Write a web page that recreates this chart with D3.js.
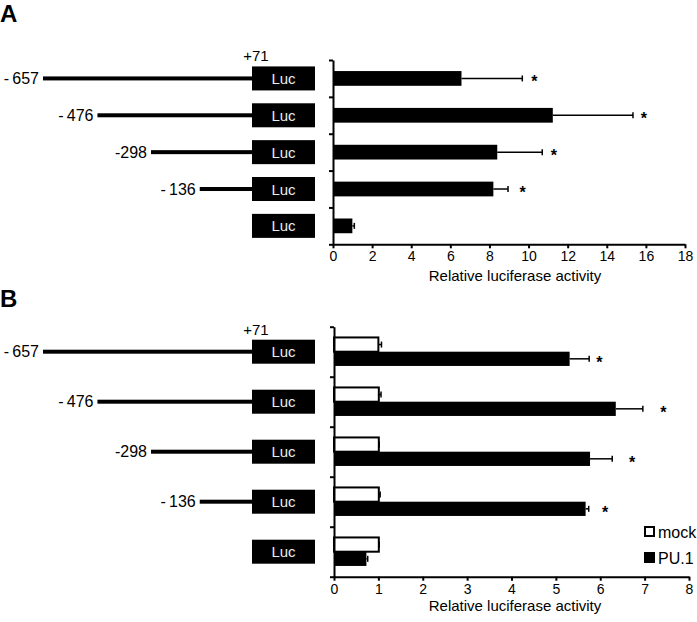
<!DOCTYPE html>
<html>
<head>
<meta charset="utf-8">
<script src="https://cdnjs.cloudflare.com/ajax/libs/d3/7.8.5/d3.min.js"></script>
<style>
  body { margin: 0; background: #fff; }
  svg { display: block; font-family: Arial, 'Liberation Sans', sans-serif; }
  .axis path, .axis line { stroke: #000; stroke-width: 2; }
  .axis text { font-size: 14px; fill: #000; }
</style>
</head>
<body>
<div id="figure"></div>
<script>
// promoter constructs, 5' end in bp (last row = empty Luc vector)
const constructStarts = [-657, -476, -298, -136, null];
const constructLabels = ['-\u2009657', '-\u2009476', '-298', '-\u2009136', ''];
const lucStart = '+71';

// panel A : relative luciferase activity
const activityA = [6.57, 11.24, 8.40, 8.20, 0.99];
const errorA = [3.11, 4.10, 2.30, 0.75, 0.10];
const starA = [10.3, 15.9, 11.3, 9.7, null];
const ticksA = [0, 2, 4, 6, 8, 10, 12, 14, 16, 18];

// panel B : mock vs PU.1
const seriesB = ['mock', 'PU.1'];
const mockB = [1.0, 1.01, 1.01, 1.01, 1.01];
const mockErrB = [0.07, 0.05, 0.01, 0.03, 0.01];
const pu1B = [5.31, 6.35, 5.77, 5.67, 0.73];
const pu1ErrB = [0.44, 0.61, 0.50, 0.07, 0.03];
const starB = [5.98, 7.42, 6.72, 6.11, null];
const ticksB = [0, 1, 2, 3, 4, 5, 6, 7, 8];

const axisTitle = 'Relative luciferase activity';

const svg = d3.select('#figure').append('svg')
  .attr('width', 697)
  .attr('height', 622);

const promoterX = d3.scaleLinear().domain([-657, 71]).range([43, 262]);
const box = { x: 252, width: 63, height: 24 };

const panelA = { letter: 'A', letterY: 22, top: 60, bottom: 244.3, x0: 333, x1: 685, domainMax: 18, ticks: ticksA, titleY: 281, padding: 0.6 };
const panelB = { letter: 'B', letterY: 307, top: 326.7, bottom: 576.7, x0: 334, x1: 689, domainMax: 8, ticks: ticksB, titleY: 611, padding: 0.43 };

function setupPanel(p) {
  p.x = d3.scaleLinear().domain([0, p.domainMax]).range([p.x0, p.x1]);
  p.y = d3.scaleBand()
    .domain(d3.range(constructStarts.length))
    .range([p.top, p.bottom])
    .paddingInner(p.padding)
    .paddingOuter(p.padding / 2);
  p.cy = function(i) { return p.y(i) + p.y.bandwidth() / 2; };

  svg.append('text')
    .attr('x', 0)
    .attr('y', p.letterY)
    .attr('font-size', 24)
    .attr('font-weight', 'bold')
    .text(p.letter);
}

function drawConstructs(p) {
  const g = svg.append('g').attr('class', 'constructs');

  const row = g.selectAll('g')
    .data(constructStarts)
    .enter()
    .append('g');

  row.filter(function(d) { return d !== null; })
    .append('rect')
      .attr('x', function(d) { return promoterX(d); })
      .attr('y', function(d, i) { return p.cy(i) - 2; })
      .attr('width', function(d) { return box.x - promoterX(d); })
      .attr('height', 4)
      .attr('fill', '#000');

  row.filter(function(d) { return d !== null; })
    .append('text')
      .attr('x', function(d) { return promoterX(d) - 4; })
      .attr('y', function(d, i) { return p.cy(i) + 5.5; })
      .attr('text-anchor', 'end')
      .attr('font-size', 16)
      .text(function(d) { return constructLabels[constructStarts.indexOf(d)]; });

  row.append('rect')
    .attr('x', box.x)
    .attr('y', function(d, i) { return p.cy(i) - box.height / 2; })
    .attr('width', box.width)
    .attr('height', box.height)
    .attr('fill', '#000');

  row.append('text')
    .attr('x', box.x + box.width / 2)
    .attr('y', function(d, i) { return p.cy(i) + 5.5; })
    .attr('text-anchor', 'middle')
    .attr('font-size', 15)
    .attr('fill', '#ececec')
    .text('Luc');

  g.append('text')
    .attr('x', box.x + 4)
    .attr('y', p.cy(0) - box.height / 2 - 5)
    .attr('text-anchor', 'middle')
    .attr('font-size', 15)
    .text(lucStart);
}

function drawAxes(p) {
  const xAxis = d3.axisBottom(p.x)
    .tickValues(p.ticks)
    .tickSize(4)
    .tickSizeOuter(0)
    .tickPadding(3);

  svg.append('g')
    .attr('class', 'axis')
    .attr('transform', 'translate(0,' + p.bottom + ')')
    .call(xAxis);

  // left axis: only ticks at row boundaries, no labels
  const rows = d3.scaleLinear().domain([0, constructStarts.length]).range([p.bottom, p.top]);
  const yAxis = d3.axisLeft(rows)
    .tickValues(d3.range(constructStarts.length + 1))
    .tickSize(4)
    .tickSizeOuter(0)
    .tickFormat('');

  svg.append('g')
    .attr('class', 'axis')
    .attr('transform', 'translate(' + p.x0 + ',0)')
    .call(yAxis);

  svg.append('text')
    .attr('x', 515)
    .attr('y', p.titleY)
    .attr('text-anchor', 'middle')
    .attr('font-size', 15)
    .text(axisTitle);
}

function errorBar(g, x, y, v, e) {
  g.append('line')
    .attr('x1', x(v)).attr('x2', x(v + e))
    .attr('y1', y).attr('y2', y)
    .attr('stroke', '#000')
    .attr('stroke-width', 1.5);
  g.append('line')
    .attr('x1', x(v + e)).attr('x2', x(v + e))
    .attr('y1', y - 3).attr('y2', y + 3)
    .attr('stroke', '#000')
    .attr('stroke-width', 1.5);
}

function star(g, x, y, v) {
  if (v === null) return;
  g.append('text')
    .attr('x', x(v))
    .attr('y', y + 8.5)
    .attr('text-anchor', 'middle')
    .attr('font-size', 16)
    .attr('font-weight', 'bold')
    .text('*');
}

// ---------- panel A ----------
setupPanel(panelA);
drawConstructs(panelA);

const barsA = svg.append('g');
barsA.selectAll('rect')
  .data(activityA)
  .enter()
  .append('rect')
    .attr('x', panelA.x(0))
    .attr('y', function(d, i) { return panelA.y(i); })
    .attr('width', function(d) { return panelA.x(d) - panelA.x(0); })
    .attr('height', panelA.y.bandwidth())
    .attr('fill', '#000');

activityA.forEach(function(v, i) {
  errorBar(barsA, panelA.x, panelA.cy(i), v, errorA[i]);
  star(barsA, panelA.x, panelA.cy(i), starA[i]);
});
drawAxes(panelA);

// ---------- panel B ----------
setupPanel(panelB);
drawConstructs(panelB);

const sub = d3.scaleBand().domain(seriesB).range([0, panelB.y.bandwidth()]);
const barsB = svg.append('g');

mockB.forEach(function(v, i) {
  const yM = panelB.y(i) + sub('mock');
  const yP = panelB.y(i) + sub('PU.1');

  barsB.append('rect')
    .attr('x', panelB.x(0))
    .attr('y', yM)
    .attr('width', panelB.x(v) - panelB.x(0))
    .attr('height', sub.bandwidth())
    .attr('fill', '#fff')
    .attr('stroke', '#000')
    .attr('stroke-width', 2);
  errorBar(barsB, panelB.x, yM + sub.bandwidth() / 2, v, mockErrB[i]);

  barsB.append('rect')
    .attr('x', panelB.x(0))
    .attr('y', yP)
    .attr('width', panelB.x(pu1B[i]) - panelB.x(0))
    .attr('height', sub.bandwidth())
    .attr('fill', '#000');
  errorBar(barsB, panelB.x, yP + sub.bandwidth() / 2, pu1B[i], pu1ErrB[i]);
  star(barsB, panelB.x, yP + sub.bandwidth() / 2 + 1, starB[i]);
});
drawAxes(panelB);

// legend
const legend = svg.append('g')
  .attr('transform', 'translate(645,527)');
const item = legend.selectAll('g')
  .data(seriesB)
  .enter()
  .append('g')
    .attr('transform', function(d, i) { return 'translate(0,' + (i * 26) + ')'; });
item.append('rect')
  .attr('x', 0)
  .attr('y', 0)
  .attr('width', 9)
  .attr('height', 9)
  .attr('fill', function(d) { return d === 'mock' ? '#fff' : '#000'; })
  .attr('stroke', '#000')
  .attr('stroke-width', 2);
item.append('text')
  .attr('x', 13)
  .attr('y', 10.5)
  .attr('font-size', 16)
  .text(function(d) { return d; });
</script>
</body>
</html>
